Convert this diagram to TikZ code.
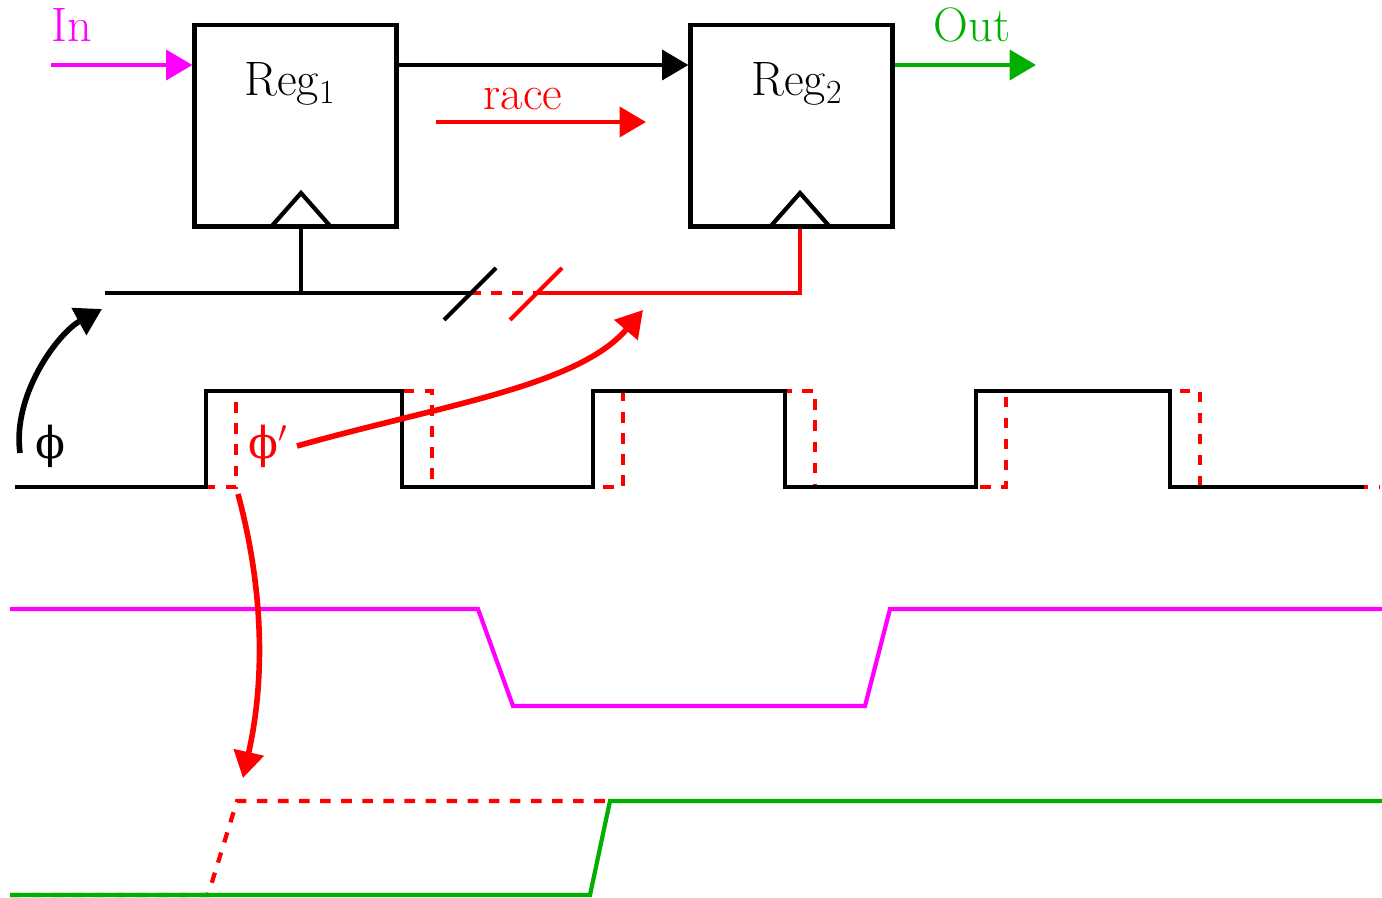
\documentclass[tikz,border=0pt]{standalone}
\usepackage{fontspec}
\newfontfamily\phifont{DejaVu Serif}
\usetikzlibrary{arrows.meta}
\definecolor{sigred}{RGB}{255,0,0}
\definecolor{sigmag}{RGB}{255,0,255}
\definecolor{siggreen}{RGB}{0,175,0}
\begin{document}
\begin{tikzpicture}[x=0.02cm, y=-0.02cm, line width=2.4pt,
  >={Triangle[length=15pt,width=17pt]},
  every node/.style={font=\fontsize{27.5}{33}\selectfont, inner sep=0pt},
  reg/.style={draw, minimum width=4.04cm, minimum height=4.03cm},
  delayed/.style={sigred, dash pattern=on 6pt off 6pt},
  bent/.style={line width=3.2pt}]
  \useasboundingbox (0,0) rectangle (1382,898);

  % registers
  \node[reg] (R1) at (295.5,125.75) {};
  \node[reg] (R2) at (791.5,125.75) {};
  \node[anchor=base] (L1) at (290,96) {Reg\textsubscript{1}};
  \node[anchor=base] (L2) at (797,96) {Reg\textsubscript{2}};

  \coordinate (T1) at (301,193);
  \coordinate (T2) at (800,193);
  \draw (T1) ++(-30,34) -- (T1) -- ++(30,34);
  \draw (T2) ++(-30,34) -- (T2) -- ++(30,34);

  % data path
  \coordinate (INS) at (51,65);
  \coordinate (OUTE) at (1036,65);
  \node[text=sigmag, anchor=base] (IN) at (72,42) {In};
  \node[text=siggreen, anchor=base] (OUT) at (972,42) {Out};
  \draw[->, sigmag] (INS) -- (INS -| R1.west);
  \draw[->] (R1.east |- INS) -- (R2.west |- INS);
  \draw[->, siggreen] (R2.east |- INS) -- (OUTE);

  \coordinate (RA) at (436,122);
  \coordinate (RB) at (646,122);
  \node[text=sigred, anchor=base] (RACE) at (523,110) {race};
  \draw[->, sigred] (RA) -- (RB);

  % clock net
  \coordinate (CK) at (105,293);
  \coordinate (B1) at (470,293);
  \coordinate (B2) at (536,293);
  \draw (CK) -- (B1);
  \draw (T1 |- R1.south) -- (T1 |- CK);
  \draw[delayed] (B1) -- (B2);
  \draw[sigred] (B2) -- (T2 |- CK) -- (T2 |- R2.south);
  \draw (B1) ++(-26,27) -- ++(52,-52);
  \draw[sigred] (B2) ++(-26,27) -- ++(52,-52);

  % clocks
  \draw[delayed] (15,487) -- (236,487) -- (236,391) -- (432,391) -- (432,487)
    -- (623,487) -- (623,391) -- (815,391) -- (815,487) -- (1006,487)
    -- (1006,391) -- (1200,391) -- (1200,487) -- (1380,487);
  \draw (15,487) -- (206,487) -- (206,391) -- (402,391) -- (402,487)
    -- (593,487) -- (593,391) -- (785,391) -- (785,487) -- (976,487)
    -- (976,391) -- (1170,391) -- (1170,487) -- (1364,487);

  \node (PHI) at (50,446) {\phifont\fontsize{25}{30}\selectfont ϕ};
  \node[text=sigred] (PHIP) at (268,446) {\phifont\fontsize{25}{30}\selectfont ϕ$'$};

  % data waveforms
  \draw[sigmag] (10,609) -- (478,609) -- (513,706) -- (865,706) -- (890,609) -- (1382,609);
  \draw[delayed] (10,895) -- (208,895) -- (237,801) -- (610,801);
  \draw[siggreen] (10,895) -- (590,895) -- (610,801) -- (1382,801);

  % causal arrows
  \coordinate (A0) at (20,453);
  \coordinate (A1) at (102,309);
  \draw[->, bent] (A0) .. controls (12,395) and (58,333) .. (A1);
  \coordinate (C0) at (297,446);
  \coordinate (C1) at (643,310);
  \draw[->, bent, sigred] (C0) .. controls (443,405) and (578,386) .. (C1);
  \coordinate (D0) at (238,494);
  \coordinate (D1) at (243,778);
  \draw[->, bent, sigred] (D0) .. controls (264,591) and (265,680) .. (D1);
\end{tikzpicture}
\end{document}
